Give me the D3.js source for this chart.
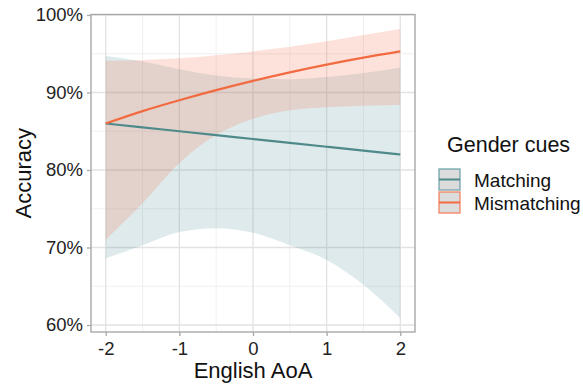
<!DOCTYPE html>
<html>
  <head>
    <meta http-equiv="Content-Type" content="text/html;charset=utf-8"/>
    <title>Accuracy by English AoA</title>
    <script src="https://d3js.org/d3.v7.min.js"></script>
    <style>
      body { margin: 0; background: #fff; }
      svg text { font-family: "Liberation Sans", Arial, sans-serif; }
    </style>
  </head>
  <body>
    <div id="chart"></div>
    <script type="text/javascript">
      // values
      const aoa = [-2, -1.5, -1, -0.5, 0, 0.5, 1, 1.5, 2]
      const matchFit   = [0.860, 0.855, 0.850, 0.845, 0.840, 0.835, 0.830, 0.825, 0.820]
      const matchLow   = [0.686, 0.703, 0.720, 0.725, 0.719, 0.703, 0.684, 0.652, 0.609]
      const matchHigh  = [0.947, 0.940, 0.930, 0.922, 0.918, 0.917, 0.920, 0.925, 0.932]
      const mismatchFit  = [0.860, 0.876, 0.890, 0.903, 0.915, 0.926, 0.936, 0.945, 0.953]
      const mismatchLow  = [0.710, 0.757, 0.809, 0.845, 0.866, 0.877, 0.881, 0.883, 0.884]
      const mismatchHigh = [0.941, 0.942, 0.944, 0.948, 0.953, 0.959, 0.966, 0.974, 0.982]
      const xTicks = [-2, -1, 0, 1, 2]
      const xMinor = [-1.5, -0.5, 0.5, 1.5]
      const yTicks = [0.6, 0.7, 0.8, 0.9, 1.0]
      const yMinor = [0.65, 0.75, 0.85, 0.95]
      const groups = ['Matching', 'Mismatching']

      const width = 583, height = 385
      const pLeft = 91, pRight = 415, pTop = 14.5, pBottom = 332

      const lineColor = { Matching: '#4f8a8b', Mismatching: '#f26b40' }
      const fillColor = { Matching: '#5f98a2', Mismatching: '#f5704a' }

      const x = d3.scaleLinear().domain([-2.2, 2.2]).range([pLeft, pRight])
      const y = d3.scaleLinear().domain([0.591, 1.0006]).range([pBottom, pTop])

      const svg = d3.select('#chart').append('svg')
        .attr('width', width).attr('height', height)

      // grid
      const grid = svg.append('g')
      grid.selectAll('.xminor').data(xMinor).enter().append('line')
        .attr('x1', d => x(d)).attr('x2', d => x(d)).attr('y1', pTop).attr('y2', pBottom)
        .attr('stroke', '#ececec').attr('stroke-width', 0.8)
      grid.selectAll('.yminor').data(yMinor).enter().append('line')
        .attr('y1', d => y(d)).attr('y2', d => y(d)).attr('x1', pLeft).attr('x2', pRight)
        .attr('stroke', '#ececec').attr('stroke-width', 0.8)
      grid.selectAll('.xmajor').data(xTicks).enter().append('line')
        .attr('x1', d => x(d)).attr('x2', d => x(d)).attr('y1', pTop).attr('y2', pBottom)
        .attr('stroke', '#e2e2e2').attr('stroke-width', 1.3)
      grid.selectAll('.ymajor').data(yTicks).enter().append('line')
        .attr('y1', d => y(d)).attr('y2', d => y(d)).attr('x1', pLeft).attr('x2', pRight)
        .attr('stroke', '#e2e2e2').attr('stroke-width', 1.3)

      const series = [
        { name: 'Matching', fit: matchFit, low: matchLow, high: matchHigh },
        { name: 'Mismatching', fit: mismatchFit, low: mismatchLow, high: mismatchHigh }
      ]

      const area = d3.area().curve(d3.curveMonotoneX)
        .x(d => x(d.x)).y0(d => y(d.lo)).y1(d => y(d.hi))
      const line = d3.line().curve(d3.curveMonotoneX)
        .x(d => x(d.x)).y(d => y(d.v))

      series.forEach(s => {
        const pts = aoa.map((a, i) => ({ x: a, lo: s.low[i], hi: s.high[i] }))
        svg.append('path').datum(pts).attr('d', area)
          .attr('fill', fillColor[s.name]).attr('fill-opacity', 0.2)
      })
      series.forEach(s => {
        const pts = aoa.map((a, i) => ({ x: a, v: s.fit[i] }))
        svg.append('path').datum(pts).attr('d', line)
          .attr('fill', 'none').attr('stroke', lineColor[s.name]).attr('stroke-width', 2.2)
      })

      // panel border
      svg.append('rect').attr('x', pLeft).attr('y', pTop)
        .attr('width', pRight - pLeft).attr('height', pBottom - pTop)
        .attr('fill', 'none').attr('stroke', '#a8a8a8').attr('stroke-width', 1.4)

      // axes
      const xAxis = d3.axisBottom(x).tickValues(xTicks).tickSize(4).tickPadding(3)
        .tickFormat(d3.format('d'))
      const yAxis = d3.axisLeft(y).tickValues(yTicks).tickSize(4).tickPadding(4)
        .tickFormat(d3.format('.0%'))

      const gx = svg.append('g').attr('transform', 'translate(0,' + pBottom + ')').call(xAxis)
      const gy = svg.append('g').attr('transform', 'translate(' + pLeft + ',0)').call(yAxis)
      ;[gx, gy].forEach(g => {
        g.select('.domain').remove()
        g.selectAll('.tick line').attr('stroke', '#a8a8a8').attr('stroke-width', 1.3)
        g.selectAll('.tick text').attr('fill', '#222').style('font-size', '18.5px')
          .style('font-family', '"Liberation Sans", Arial, sans-serif')
      })
      gx.selectAll('.tick text').attr('dy', '0.85em').text(d => d < 0 ? '-' + Math.abs(d) : d)

      svg.append('text').attr('x', (pLeft + pRight) / 2).attr('y', 378)
        .attr('text-anchor', 'middle').style('font-size', '22px').attr('fill', '#111')
        .text('English AoA')
      svg.append('text').attr('transform', 'translate(31,' + ((pTop + pBottom) / 2) + ') rotate(-90)')
        .attr('text-anchor', 'middle').style('font-size', '22px').attr('fill', '#111')
        .text('Accuracy')

      // legend
      const legend = svg.append('g')
      legend.append('text').attr('x', 447).attr('y', 152)
        .style('font-size', '21.5px').attr('fill', '#111').text('Gender cues')
      groups.forEach((g, i) => {
        const ky = 169 + i * 23
        legend.append('rect').attr('x', 439).attr('y', ky).attr('width', 21).attr('height', 21)
          .attr('fill', '#dcdcdc').attr('stroke', fillColor[g]).attr('stroke-width', 1.4)
          .attr('stroke-opacity', 0.8)
        legend.append('line').attr('x1', 439).attr('x2', 460).attr('y1', ky + 10.5).attr('y2', ky + 10.5)
          .attr('stroke', lineColor[g]).attr('stroke-width', 2)
        legend.append('text').attr('x', 474).attr('y', ky + 18)
          .style('font-size', '19px').attr('fill', '#111').text(g)
      })
    </script>
  </body>
</html>
